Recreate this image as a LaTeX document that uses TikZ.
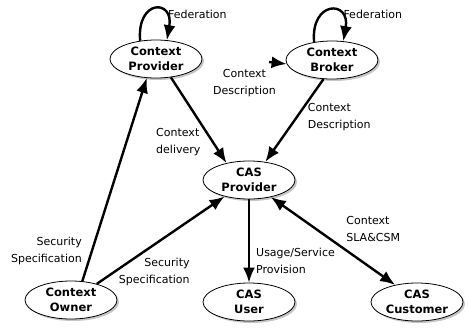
\documentclass[tikz,border=0pt]{standalone}
\usepackage{fontspec}
\setmainfont{DejaVu Sans}
\usetikzlibrary{arrows.meta,shapes.geometric,shadows,positioning}
\tikzstyle{actor}=[draw,ellipse,fill=white,line width=.8pt,minimum width=92pt,minimum height=38pt,inner sep=0pt,align=center,font=\fontsize{11.5}{14.5}\selectfont\bfseries,drop shadow={shadow xshift=2pt,shadow yshift=-2pt,opacity=.45}]
\tikzstyle{lbl}=[inner sep=1pt,font=\fontsize{11}{17}\selectfont]
\tikzstyle{flow}=[line width=2.4pt,-{Latex[length=15pt,width=12pt]}]

\begin{document}
\begin{tikzpicture}[x=1pt,y=-1pt]
\useasboundingbox (0,0) rectangle (468,327);
\draw (156,59) node [actor] (cprov) {Context\\Provider};
\draw (332,60) node [actor] (cbrok) {Context\\Broker};
\draw (249,180) node [actor] (casprov) {CAS\\Provider};
\draw (71,300) node [actor] (cowner) {Context\\Owner};
\draw (249,302) node [actor] (casuser) {CAS\\User};
\draw (417,302) node [actor] (cascust) {CAS\\Customer};
\coordinate (descstub) at (269,62);
\draw[flow] (cprov.131) to[out=95,in=80,distance=42pt] node[lbl, at end, anchor=south west, xshift=-1pt, yshift=19pt] (fedprov) {Federation} (cprov.60);
\draw[flow] (cbrok.135) to[out=95,in=80,distance=42pt] node[lbl, at end, anchor=south west, xshift=-2pt, yshift=20pt] (fedbrok) {Federation} (cbrok.59);
\draw[flow] (descstub) -- (cbrok.185) node[lbl, at start, anchor=north east, align=center, xshift=9pt, yshift=-5pt] (descprov) {Context\\Description};
\draw[flow] (cprov.309) -- (casprov.143) node[lbl, pos=.75, left=10pt, align=left] (delivery) {Context\\delivery};
\draw[flow] (cbrok.246) -- (casprov.48) node[lbl, pos=.46, right=9pt, align=left] (descbrok) {Context\\Description};
\draw[flow] (cowner.59) -- (cprov.244) node[lbl, pos=.15, left=8pt, align=right] (secprov) {Security\\Specification};
\draw[flow] (cowner.32) -- (casprov.214) node[lbl, pos=.45, below=11pt, align=right] (seccas) {Security\\Specification};
\draw[flow] (casprov) -- (casuser) node[lbl, pos=.74, right=5pt, align=left] (usage) {Usage/Service\\Provision};
\draw[flow, {Latex[length=15pt,width=12pt]}-{Latex[length=15pt,width=12pt]}] (casprov.322) -- (cascust.142) node[lbl, pos=.59, anchor=south west, yshift=5pt, align=left] (sla) {Context\\SLA\&CSM};
\end{tikzpicture}
\end{document}
